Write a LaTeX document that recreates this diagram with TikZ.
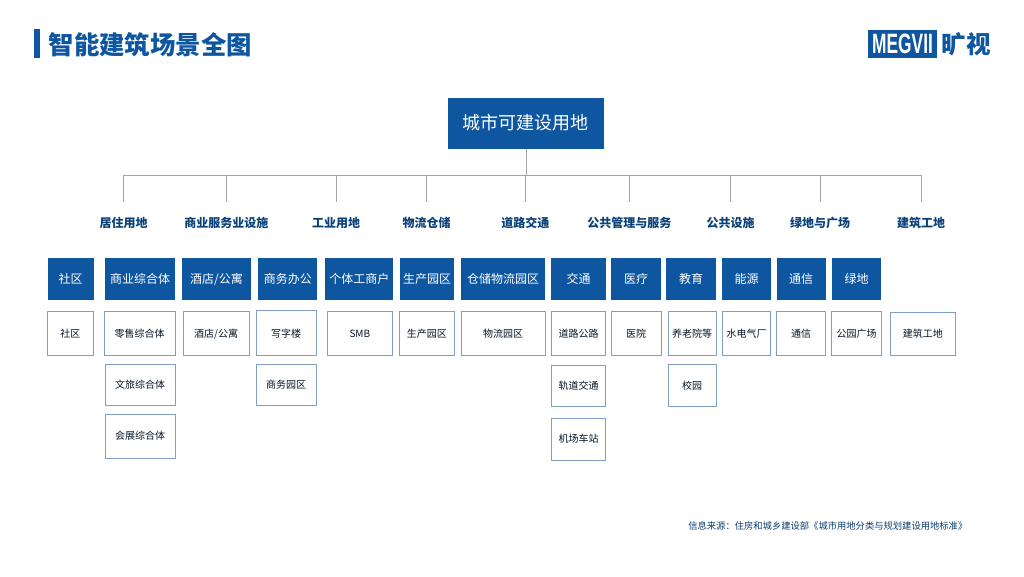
\documentclass[tikz,border=0pt]{standalone}
\usepackage{graphicx}
\usepackage{fontspec}
\setmainfont{Noto Sans CJK SC}
\newfontfamily\logofont{Liberation Sans}
\definecolor{megblue}{HTML}{0E57A0}
\definecolor{edgeblue}{HTML}{7F9FC6}
\definecolor{lineg}{HTML}{A6A6A6}
\tikzset{
	rootbox/.style={fill=megblue, text=white, font=\fontsize{18}{18}\selectfont, inner sep=0pt, text height=14.8pt, text depth=3.2pt},
	topbox/.style={fill=megblue, text=white, font=\fontsize{12}{12}\selectfont, inner sep=0pt, text height=10.5pt, text depth=1.4pt},
	subbox/.style={draw=edgeblue, line width=0.9pt, fill=white, text=black!75!megblue, font=\fontsize{10}{10}\selectfont, inner sep=0pt, text height=8.8pt, text depth=1.2pt},
	grouplabel/.style={text=black!25!megblue, font=\fontsize{12}{12}\selectfont\bfseries, inner sep=0pt},
	drop/.style={draw=lineg, line width=0.8pt}
}
% macro: box named #1, style #2, corners (x1,y1) (x2,y2), text #7
\newcommand{\pbox}[7]{\node[#2, minimum width=#5pt-#3pt, minimum height=#6pt-#4pt] (#1) at ({(#3+#5)/2},{(#4+#6)/2}) {#7};}
\begin{document}
\begin{tikzpicture}[x=1pt, y=-1pt]
	\useasboundingbox (0,0) rectangle (1024,577);
	% title and logo
	\fill[megblue] (34,29.5) rectangle (39.7,58);
	\node[text=megblue, anchor=west, inner sep=0pt, font=\fontsize{25.4}{26}\selectfont\bfseries] (title) at (48.5,45) {智能建筑场景全图};
	\node[fill=megblue, text=white, minimum width=68.4pt, minimum height=28.3pt, inner sep=0pt] (logo) at (902.5,44.2) {\scalebox{0.62}[1]{\logofont\bfseries\fontsize{28}{28}\selectfont MEGVII}};
	\node[text=megblue, anchor=west, inner sep=0pt, font=\fontsize{24.5}{25}\selectfont\bfseries] (logocn) at (941.5,44.5) {旷视};
	% root
	\pbox{root}{rootbox}{447.7}{98}{604}{148.7}{城市可建设用地}
	% group labels with their drops
	\coordinate (bus) at (526,175.5);
	\foreach \nm/\px/\lx/\txt in {
		resid/123.5/123.5/居住用地,
		comm/226.3/226.3/商业服务业设施,
		indu/336.3/336/工业用地,
		logi/426.3/426.5/物流仓储,
		road/525.3/525.3/道路交通,
		publ/629.3/629.3/公共管理与服务,
		faci/730.7/730.7/公共设施,
		green/820.3/820/绿地与广场,
		site/921.7/921.2/建筑工地}{
		\node[grouplabel] (\nm) at (\lx,222.5) {\txt};
		\coordinate (\nm top) at (\px,202);
		\draw[drop] (\nm top) |- (bus);
	}
	\draw[drop] (root.south -| bus) -- (bus);
	% blue row
	\foreach \nm/\xa/\xb/\txt in {
		ta/47.7/93.7/社区, tb/105/175/商业综合体, tc/182.3/250.7/{酒店/公寓},
		td/258.3/317.3/商务办公, te/325.3/393.3/个体工商户, tf/400/454/生产园区,
		tg/461/545/仓储物流园区, th/551.3/605.7/交通, ti/611.3/661/医疗,
		tj/666.3/716/教育, tk/722/771/能源, tl/776.7/825.7/通信, tm/832/881/绿地}{
		\pbox{\nm}{topbox}{\xa}{257.7}{\xb}{300}{\txt}
	}
	% white boxes
	\foreach \nm/\xa/\ya/\xb/\yb/\txt in {
		sa/47.3/311.7/93.3/355.7/社区, sb/104.3/311.7/175/355.7/零售综合体,
		sc/183.3/311.7/249/355.7/{酒店/公寓}, sd/256/310.7/316/355.7/写字楼,
		se/327.7/311.7/392/355.7/SMB, sf/399.7/311.7/454/355.7/生产园区,
		sg/461/311.7/545/355.7/物流园区, sh/551.3/311.7/605.7/355.7/道路公路,
		si/611.3/311.7/661/355.7/医院, sj/668/311.7/716/355.7/养老院等,
		sk/722.3/311.7/770.7/355.7/水电气厂, sl/776.7/311.7/825.7/355.7/通信,
		sm/831.7/311.7/881.7/355.7/公园广场, sn/890/312/955.7/355.7/建筑工地,
		ub/105/364.3/175/405/文旅综合体, ud/256/364/316/405.7/商务园区,
		uh/551.3/365/605.7/406.7/轨道交通, uj/668/364/716/406.7/校园,
		vb/105/414/175/458/会展综合体, vh/551.3/418/605.7/460/机场车站}{
		\pbox{\nm}{subbox}{\xa}{\ya}{\xb}{\yb}{\txt}
	}
	% source line
	\node[text=black!30!megblue, anchor=east, inner sep=0pt, font=\fontsize{9.3}{10}\selectfont] (source) at (967.5,525.5) {信息来源：住房和城乡建设部《城市用地分类与规划建设用地标准》};
\end{tikzpicture}
\end{document}
